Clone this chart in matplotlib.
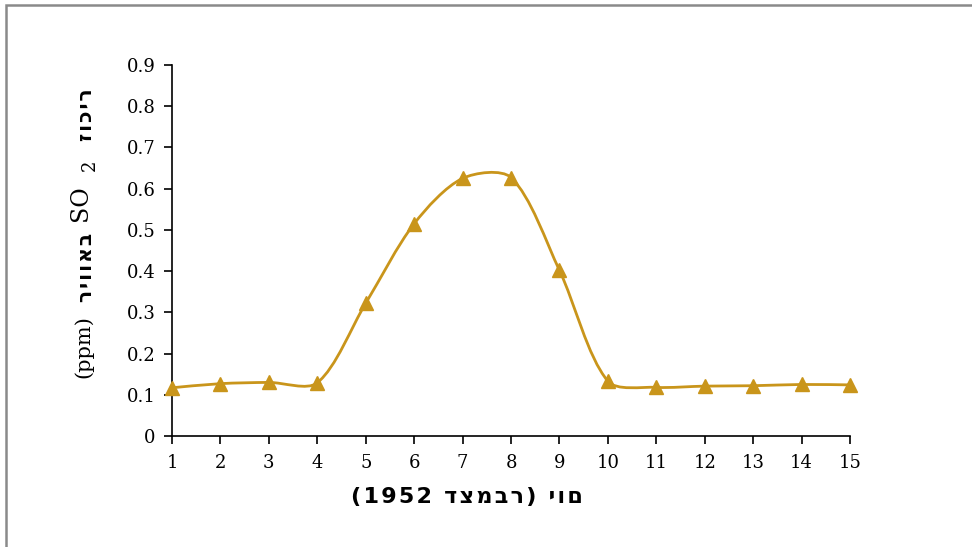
import numpy as np
import matplotlib
matplotlib.use('Agg')
import matplotlib.pyplot as plt
from matplotlib.path import Path
from matplotlib.patches import PathPatch, Rectangle

# data
days = [1, 2, 3, 4, 5, 6, 7, 8, 9, 10, 11, 12, 13, 14, 15]
so2 = [0.117, 0.127, 0.130, 0.129, 0.322, 0.515, 0.625, 0.627, 0.402, 0.133, 0.118, 0.121, 0.122, 0.125, 0.124]
yticks = [0, 0.1, 0.2, 0.3, 0.4, 0.5, 0.6, 0.7, 0.8, 0.9]
ytick_labels = ['0', '0.1', '0.2', '0.3', '0.4', '0.5', '0.6', '0.7', '0.8', '0.9']

color = '#C9951B'
serif = ['DejaVu Serif']
sans = ['DejaVu Sans']

# letters a bit spaced out like the original
def spaced(s, gap='\u200a'):
    return gap.join(s)

fig = plt.figure(figsize=(9.72, 5.47), dpi=100)
ax = fig.add_axes([172/972, 1-436/547, (850-172)/972, (436-65)/547])
ax.set_xlim(1, 15)
ax.set_ylim(0, 0.9)

# smoothed line: bezier segments, tangents weighted by chord length in display space
pd = ax.transData.transform(np.column_stack([days, so2]))
ext = np.vstack([pd[0], pd, pd[-1]])
k = 0.3
verts = [tuple(pd[0])]
codes = [Path.MOVETO]
for i in range(len(pd) - 1):
    p0, p1, p2, p3 = ext[i], ext[i+1], ext[i+2], ext[i+3]
    d01 = np.hypot(*(p1 - p0)); d12 = np.hypot(*(p2 - p1)); d23 = np.hypot(*(p3 - p2))
    w1 = d12 / (d01 + d12) if d01 > 0 else 0.5
    w2 = d12 / (d12 + d23) if d23 > 0 else 0.5
    c1 = p1 + (p2 - p0) * w1 * k
    c2 = p2 - (p3 - p1) * w2 * k
    verts += [tuple(c1), tuple(c2), tuple(p2)]
    codes += [Path.CURVE4] * 3
verts = ax.transData.inverted().transform(np.array(verts))
ax.add_patch(PathPatch(Path(verts, codes), fill=False, edgecolor=color, lw=2.0, zorder=2))
ax.plot(days, so2, linestyle='none', marker='^', markersize=10, color=color,
        markeredgecolor=color, zorder=3, clip_on=False)

ax.set_xticks(days)
ax.set_xticklabels([str(d) for d in days], fontfamily=serif, fontsize=13)
ax.set_yticks(yticks)
ax.set_yticklabels(ytick_labels, fontfamily=serif, fontsize=13)
ax.tick_params(axis='both', direction='out', length=6, width=1.2, color='black')
ax.tick_params(axis='x', pad=7)
ax.tick_params(axis='y', pad=6)
for s in ['top', 'right']:
    ax.spines[s].set_visible(False)
for s in ['left', 'bottom']:
    ax.spines[s].set_linewidth(1.2)

# x label
fig.text(467/972, 1-497/547, spaced('(1952 דצמבר) יום'),
         ha='center', va='center', fontsize=16, fontweight='bold', fontfamily=sans)

# y label built from pieces (hebrew sans bold, SO2 and ppm serif);
# hebrew words here are shown right-to-left, so flip them for matplotlib
def ytext(ypix, xpix, s, **kw):
    fig.text(xpix/972, 1-ypix/547, s, rotation=90, ha='center', va='center', **kw)

ytext(347, 84, '(ppm)', fontsize=15, fontfamily=serif)
ytext(267, 86, spaced('באוויר'[::-1]), fontsize=14.5, fontweight='bold', fontfamily=sans)
ytext(203, 80, 'SO', fontsize=17, fontfamily=serif)
ytext(165, 90, '2', fontsize=13, fontfamily=serif)
ytext(115, 86, spaced('ריכוז'[::-1]), fontsize=14.5, fontweight='bold', fontfamily=sans)

# gray frame, cut at right and bottom
fig.patches.append(Rectangle((6/972, -0.1), 1.2, 1.1 - 5/547, transform=fig.transFigure,
                             fill=False, edgecolor='#8a8a8a', lw=1.8))

fig.savefig('out.png', dpi=100)
